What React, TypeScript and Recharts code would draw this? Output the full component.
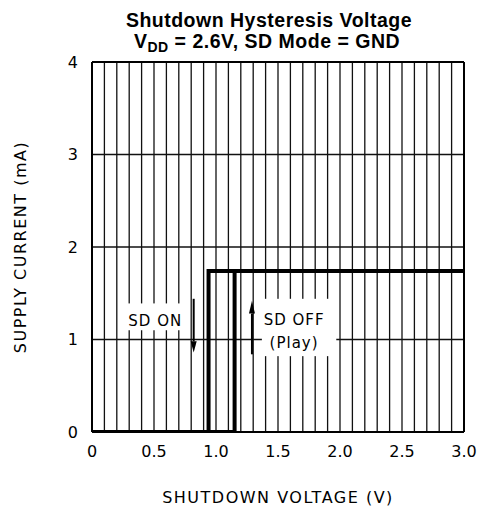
import {
  LineChart,
  Line,
  XAxis,
  YAxis,
  CartesianGrid,
  ReferenceLine,
  Customized,
} from 'recharts'

const sdOnVoltage = [0, 0.94, 0.94, 3.0]
const sdOnCurrent = [0, 0, 1.74, 1.74]
const sdOffVoltage = [0, 1.15, 1.15, 3.0]
const sdOffCurrent = [0, 0, 1.74, 1.74]

const xTicks = [0, 0.5, 1.0, 1.5, 2.0, 2.5, 3.0]
const yTicks = [0, 1, 2, 3, 4]
const gridVoltages = [
  0.1, 0.2, 0.3, 0.4, 0.5, 0.6, 0.7, 0.8, 0.9, 1.0, 1.1, 1.2, 1.3, 1.4, 1.5,
  1.6, 1.7, 1.8, 1.9, 2.0, 2.1, 2.2, 2.3, 2.4, 2.5, 2.6, 2.7, 2.8, 2.9,
]

const W = 479
const H = 508
const PLOT = { left: 92, right: 464, top: 62, bottom: 432 }
const px = (v: number) => PLOT.left + (v / 3) * (PLOT.right - PLOT.left)
const py = (i: number) => PLOT.bottom - (i / 4) * (PLOT.bottom - PLOT.top)

const sdOn = sdOnVoltage.map((x, i) => ({ x, y: sdOnCurrent[i] }))
const sdOff = sdOffVoltage.map((x, i) => ({ x, y: sdOffCurrent[i] }))

const tickFont = { fill: '#000', fontSize: 16, fontFamily: 'DejaVu Sans' }
const labelFont = { fontFamily: 'DejaVu Sans', fontSize: 16, letterSpacing: 1.5 }
const noteFont = { fontFamily: 'DejaVu Sans', fontSize: 15, letterSpacing: 1 }

function Annotations() {
  const cx = (PLOT.left + PLOT.right) / 2
  const cy = (PLOT.top + PLOT.bottom) / 2
  const onX = px(0.82)
  const offX = px(1.29)
  return (
    <g>
      {/* white boxes cutting the grid */}
      <rect x={px(0.27)} y={py(1.39)} width={px(0.75) - px(0.27)} height={py(1.1) - py(1.39)} fill="#fff" />
      <rect x={px(1.37)} y={py(1.44)} width={px(1.97) - px(1.37)} height={py(0.82) - py(1.44)} fill="#fff" />
      <text x={px(0.51)} y={py(1.2)} textAnchor="middle" dominantBaseline="central" {...noteFont}>
        SD ON
      </text>
      <text x={px(1.63)} y={py(1.21)} textAnchor="middle" dominantBaseline="central" {...noteFont}>
        SD OFF
      </text>
      <text x={px(1.63)} y={py(0.96)} textAnchor="middle" dominantBaseline="central" {...noteFont}>
        (Play)
      </text>
      {/* SD ON arrow (down) */}
      <line x1={onX} y1={py(1.44)} x2={onX} y2={py(0.98)} stroke="#000" strokeWidth={2} />
      <polygon points={`${onX - 3},${py(0.98)} ${onX + 3},${py(0.98)} ${onX},${py(0.86)}`} fill="#000" />
      {/* SD OFF arrow (up) */}
      <line x1={offX} y1={py(0.84)} x2={offX} y2={py(1.28)} stroke="#000" strokeWidth={2} />
      <polygon points={`${offX - 3},${py(1.28)} ${offX + 3},${py(1.28)} ${offX},${py(1.42)}`} fill="#000" />
      {/* titles */}
      <text x={269} y={27} textAnchor="middle" fontFamily="Liberation Sans" fontWeight="bold" fontSize={19.5} letterSpacing={0.5}>
        Shutdown Hysteresis Voltage
      </text>
      <text x={267} y={48} textAnchor="middle" fontFamily="Liberation Sans" fontWeight="bold" fontSize={19.5} letterSpacing={0.5}>
        V<tspan fontSize={14} dy={4}>DD</tspan>
        <tspan dy={-4}> = 2.6V, SD Mode = GND</tspan>
      </text>
      <text x={cx} y={497} textAnchor="middle" dominantBaseline="central" {...labelFont}>
        SHUTDOWN VOLTAGE (V)
      </text>
      <text
        x={20}
        y={cy}
        textAnchor="middle"
        dominantBaseline="central"
        transform={`rotate(-90 20 ${cy})`}
        {...labelFont}
      >
        SUPPLY CURRENT (mA)
      </text>
    </g>
  )
}

export default function App() {
  return (
    <div style={{ position: 'absolute', left: 0, top: 0, width: W, height: H, background: '#fff' }}>
      <LineChart width={W} height={H} margin={{ top: 62, right: 15, bottom: 46, left: 52 }}>
        <CartesianGrid
          stroke="#111"
          strokeWidth={1.3}
          verticalCoordinatesGenerator={(props: any) =>
            gridVoltages.map((v) =>
              props?.xAxis && typeof props.xAxis.scale === 'function' ? props.xAxis.scale(v) : px(v),
            )
          }
        />
        <XAxis
          type="number"
          dataKey="x"
          domain={[0, 3]}
          ticks={xTicks}
          tickFormatter={(v: number) => (v === 0 ? '0' : v.toFixed(1))}
          tick={tickFont}
          tickLine={false}
          tickSize={0}
          tickMargin={14}
          height={30}
          axisLine={{ stroke: '#000', strokeWidth: 2 }}
          allowDataOverflow
        />
        <YAxis
          type="number"
          domain={[0, 4]}
          ticks={yTicks}
          tick={tickFont}
          tickLine={false}
          tickSize={0}
          tickMargin={14}
          width={40}
          axisLine={{ stroke: '#000', strokeWidth: 2 }}
          allowDataOverflow
        />
        <ReferenceLine x={3} stroke="#000" strokeWidth={2} />
        <ReferenceLine y={4} stroke="#000" strokeWidth={2} />
        <Customized component={Annotations} />
        <Line data={sdOn} dataKey="y" type="linear" stroke="#000" strokeWidth={4} dot={false} isAnimationActive={false} />
        <Line data={sdOff} dataKey="y" type="linear" stroke="#000" strokeWidth={4} dot={false} isAnimationActive={false} />
      </LineChart>
    </div>
  )
}
